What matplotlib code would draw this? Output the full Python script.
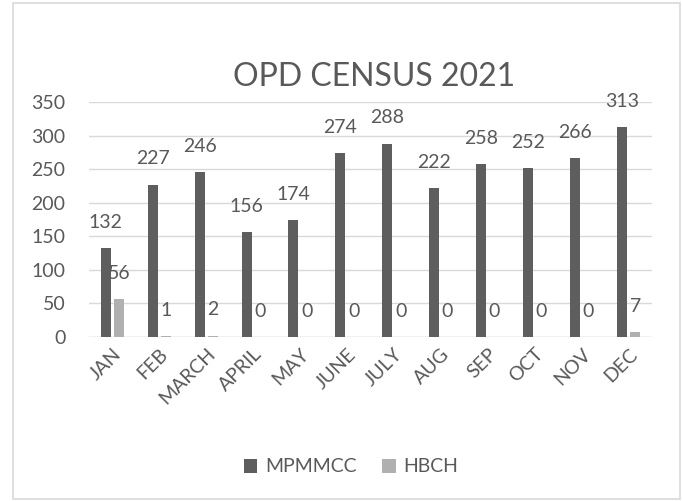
import matplotlib
matplotlib.use("Agg")
import matplotlib.pyplot as plt
import numpy as np
from matplotlib.patches import Rectangle

months = ["JAN", "FEB", "MARCH", "APRIL", "MAY", "JUNE", "JULY", "AUG", "SEP", "OCT", "NOV", "DEC"]
mpmmcc = [132, 227, 246, 156, 174, 274, 288, 222, 258, 252, 266, 313]
hbch = [56, 1, 2, 0, 0, 0, 0, 0, 0, 0, 0, 7]
series_names = ["MPMMCC", "HBCH"]
title = "OPD CENSUS 2021"
yticks = [0, 50, 100, 150, 200, 250, 300, 350]

plt.rcParams['font.family'] = ['Lato', 'DejaVu Sans']
txt = "#595959"
dark = "#5e5e5e"
light = "#b0b0b0"
fs = 14

fig = plt.figure(figsize=(6.82, 5.01), dpi=100)
ax = fig.add_axes([89/682, 1-337/501, (652-89)/682, (337-102)/501])

x = np.arange(len(months))
w = 0.213
off = 0.142
b1 = ax.bar(x - off, mpmmcc, w, color=dark, label=series_names[0], zorder=3)
b2 = ax.bar(x + off, hbch, w, color=light, label=series_names[1], zorder=3)

for bars, vals in ((b1, mpmmcc), (b2, hbch)):
    for r, v in zip(bars, vals):
        ax.annotate(str(v), (r.get_x() + r.get_width()/2, v), xytext=(0, 18.5),
                    textcoords="offset points", ha="center", va="center",
                    fontsize=fs, color=txt, zorder=4)

ax.set_xlim(-0.5, len(months) - 0.5)
ax.set_ylim(0, 350)
ax.set_yticks(yticks)
ax.set_yticklabels([str(t) for t in yticks])
ax.grid(axis="y", color="#d9d9d9", linewidth=1, zorder=0)
for s in ax.spines.values():
    s.set_visible(False)
ax.tick_params(axis="both", length=0, labelsize=fs, colors=txt, pad=17)
ax.tick_params(axis="x", pad=6)
ax.set_xticks(x)
ax.set_xticklabels(months, rotation=45, ha="right", va="top", rotation_mode="anchor")
ax.axhline(0, color="#d9d9d9", linewidth=1, zorder=2)

fig.text(374/682, 1-77/501, title, ha="center", va="center", fontsize=23, color=txt)

fig.legend(handles=[b1, b2], labels=series_names, loc="center", bbox_to_anchor=(351/682, 1-467/501),
           ncol=2, frameon=False, fontsize=fs, labelcolor=txt, handlelength=0.7, handleheight=0.7,
           handletextpad=0.4, columnspacing=1.3)

fig.patches.append(Rectangle((13/682, 2/501), (680-13)/682, (498-2)/501, transform=fig.transFigure,
                             fill=False, edgecolor="#d9d9d9", linewidth=1.2))

fig.savefig("out.png", dpi=100, facecolor="white")
